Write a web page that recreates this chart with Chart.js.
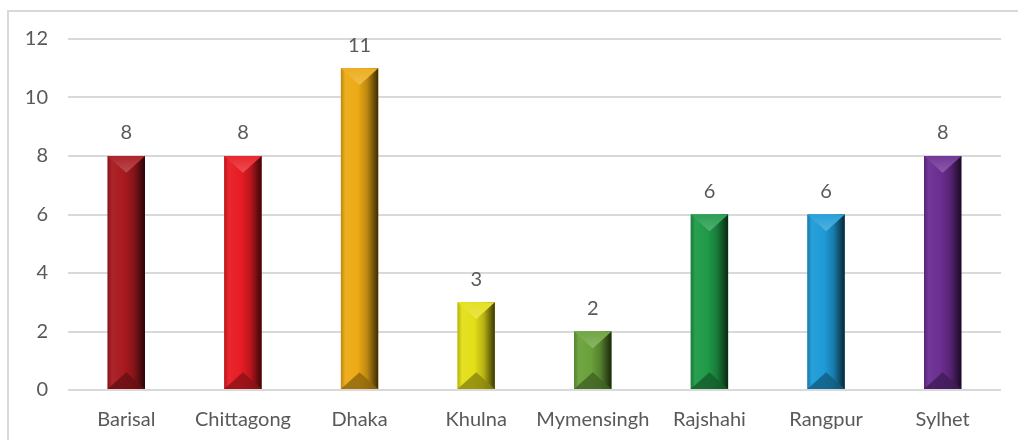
<!DOCTYPE html>
<html>
<head>
<meta charset="utf-8">
<script src="https://cdn.jsdelivr.net/npm/chart.js@4/dist/chart.umd.min.js"></script>
<style>
html,body{margin:0;padding:0;background:#fff;overflow:hidden;}
#wrap{position:relative;width:1018px;height:440px;}
#frame{position:absolute;left:7px;top:10px;width:1040px;height:460px;border:2px solid #d9d9d9;box-sizing:border-box;}
canvas{position:absolute;left:0;top:0;}
</style>
</head>
<body>
<div id="wrap">
<div id="frame"></div>
<canvas id="c" width="1018" height="440"></canvas>
</div>
<script>
const categories = ["Barisal","Chittagong","Dhaka","Khulna","Mymensingh","Rajshahi","Rangpur","Sylhet"];
const values = [8, 8, 11, 3, 2, 6, 6, 8];
const barColors = ["#a8191f","#e81c24","#ecaa15","#e4de17","#6aa13a","#1f9a48","#1e9bd7","#6b2d91"];
const yTicks = [0, 2, 4, 6, 8, 10, 12];

function hexToRgb(h){h=h.replace('#','');return [parseInt(h.substr(0,2),16),parseInt(h.substr(2,2),16),parseInt(h.substr(4,2),16)];}
function shade(h,f){const c=hexToRgb(h);return 'rgb('+c.map(v=>Math.round(f>=1?v+(255-v)*(f-1):v*f)).join(',')+')';}

const FONT = "Lato, 'Open Sans', sans-serif";
const TXT = "#595959";

const bevelPlugin = {
  id:'bevel',
  afterDatasetsDraw(chart){
    const ctx = chart.ctx;
    const meta = chart.getDatasetMeta(0);
    meta.data.forEach((bar,i)=>{
      const col = barColors[i];
      const w = bar.width, l = bar.x - w/2, r = bar.x + w/2, t = bar.y, b = bar.base;
      const h = b - t;
      ctx.save();
      const g = ctx.createLinearGradient(l,0,r,0);
      g.addColorStop(0, shade(col,0.8));
      g.addColorStop(0.12, shade(col,1.05));
      g.addColorStop(0.45, shade(col,1.0));
      g.addColorStop(0.7, shade(col,0.8));
      g.addColorStop(1, shade(col,0.25));
      ctx.fillStyle = g;
      ctx.fillRect(l,t,w,h);
      const d = Math.min(w*0.45, h/2);
      ctx.beginPath();
      ctx.moveTo(l,t);ctx.lineTo(r,t);ctx.lineTo(bar.x,t+d);ctx.closePath();
      const gt = ctx.createLinearGradient(0,t,0,t+d);
      gt.addColorStop(0, shade(col,1.05));
      gt.addColorStop(1, shade(col,1.22));
      ctx.fillStyle = gt;
      ctx.fill();
      ctx.beginPath();
      ctx.moveTo(l,b);ctx.lineTo(r,b);ctx.lineTo(bar.x,b-d);ctx.closePath();
      ctx.fillStyle = shade(col,0.6);
      ctx.globalAlpha = 0.8;
      ctx.fill();
      ctx.restore();
      ctx.save();
      ctx.font = "20px " + FONT;
      ctx.fillStyle = TXT;
      ctx.textAlign = 'center';
      ctx.textBaseline = 'middle';
      ctx.fillText(String(values[i]), bar.x, t - 23);
      ctx.restore();
    });
  }
};

new Chart(document.getElementById('c'), {
  type:'bar',
  data:{
    labels: categories,
    datasets:[{data: values, backgroundColor: barColors, borderWidth:0, barPercentage:0.32, categoryPercentage:1.0}]
  },
  options:{
    responsive:false,
    animation:false,
    layout:{padding:{top:39,right:17,left:0,bottom:0}},
    plugins:{legend:{display:false},tooltip:{enabled:false}},
    scales:{
      x:{
        grid:{display:false},
        border:{display:false},
        afterFit(axis){axis.height = 50;},
        ticks:{color:TXT,font:{family:FONT,size:20},padding:10,maxRotation:0}
      },
      y:{
        min:0,max:12,
        afterBuildTicks(axis){axis.ticks = yTicks.map(v=>({value:v}));},
        afterFit(axis){axis.width = 68;},
        grid:{color:'#d9d9d9',lineWidth:2,drawTicks:false},
        border:{display:false},
        ticks:{color:TXT,font:{family:FONT,size:20},padding:20}
      }
    }
  },
  plugins:[bevelPlugin]
});
</script>
</body>
</html>
